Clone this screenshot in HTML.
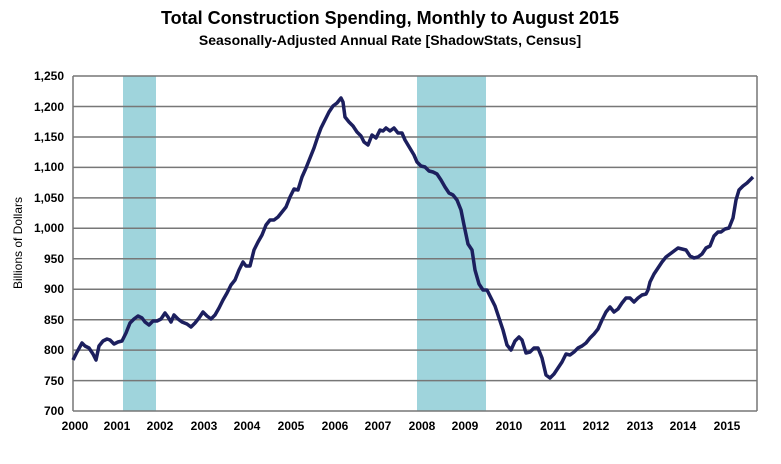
<!DOCTYPE html>
<html><head><style>body{margin:0;background:#fff}</style></head><body>
<svg width="781" height="459" xmlns="http://www.w3.org/2000/svg" font-family="Liberation Sans, Arial, sans-serif">
<rect width="781" height="459" fill="#fff"/>
<text x="390" y="24" text-anchor="middle" font-size="18" font-weight="bold">Total Construction Spending, Monthly to August 2015</text>
<text x="390" y="45" text-anchor="middle" font-size="14" font-weight="bold">Seasonally-Adjusted Annual Rate [ShadowStats, Census]</text>
<rect x="123" y="76" width="33" height="335" fill="#9fd4dc"/>
<rect x="417" y="76" width="69" height="335" fill="#9fd4dc"/>
<g stroke="#777" stroke-width="1.5">
<line x1="73" x2="757" y1="76" y2="76"/><line x1="73" x2="757" y1="106.5" y2="106.5"/><line x1="73" x2="757" y1="137" y2="137"/><line x1="73" x2="757" y1="167.4" y2="167.4"/><line x1="73" x2="757" y1="197.9" y2="197.9"/><line x1="73" x2="757" y1="228.3" y2="228.3"/><line x1="73" x2="757" y1="258.8" y2="258.8"/><line x1="73" x2="757" y1="289.2" y2="289.2"/><line x1="73" x2="757" y1="319.7" y2="319.7"/><line x1="73" x2="757" y1="350.1" y2="350.1"/><line x1="73" x2="757" y1="380.6" y2="380.6"/><line x1="73" x2="757" y1="411" y2="411"/>
<line x1="73" x2="73" y1="76" y2="411"/><line x1="757" x2="757" y1="76" y2="411"/>
</g>
<g font-size="12" font-weight="bold" text-anchor="end">
<text x="64" y="80">1,250</text><text x="64" y="111">1,200</text><text x="64" y="141">1,150</text><text x="64" y="171">1,100</text><text x="64" y="202">1,050</text><text x="64" y="232">1,000</text><text x="64" y="263">950</text><text x="64" y="293">900</text><text x="64" y="324">850</text><text x="64" y="354">800</text><text x="64" y="385">750</text><text x="64" y="415">700</text>
</g>
<g font-size="12" font-weight="bold" text-anchor="middle">
<text x="75" y="430">2000</text><text x="117" y="430">2001</text><text x="160" y="430">2002</text><text x="204" y="430">2003</text><text x="247" y="430">2004</text><text x="291" y="430">2005</text><text x="335" y="430">2006</text><text x="378" y="430">2007</text><text x="422" y="430">2008</text><text x="465" y="430">2009</text><text x="509" y="430">2010</text><text x="553" y="430">2011</text><text x="596" y="430">2012</text><text x="640" y="430">2013</text><text x="683" y="430">2014</text><text x="727" y="430">2015</text>
</g>
<text transform="translate(22,243) rotate(-90)" text-anchor="middle" font-size="12">Billions  of Dollars</text>
<polyline fill="none" stroke="#1c1f5e" stroke-width="3.5" stroke-linejoin="round" points="73,360 77,352 82,343 85,346 89,348 93,354 96,360 99,346 103,341 107,339 110,340 114,344 118,342 122,341 126,333 130,323 134,319 138,316 142,318 145,322 149,325 153,321 157,321 161,319 165,313 168,317 171,322 174,315 178,319 182,322 187,324 191,327 195,323 199,318 203,312 207,316 211,319 215,315 219,308 223,300 227,293 231,285 235,280 239,270 243,262 246,266 250,266 254,250 258,242 262,235 266,225 270,220 274,220 278,217 282,212 286,207 290,197 294,189 298,190 302,177 306,168 310,158 314,148 318,136 321,128 325,120 329,112 333,106 337,103 341,98 343,102 345,117 349,122 353,126 357,132 361,136 364,142 368,145 372,135 376,138 380,130 383,131 386,128 390,131 394,128 398,133 402,133 405,140 408,145 411,150 414,155 417,162 421,166 425,167 429,171 433,172 437,174 441,180 445,187 449,193 453,195 457,200 461,210 464,225 468,244 472,250 475,270 479,284 483,290 487,290 491,298 495,306 499,318 503,330 507,345 511,350 515,341 519,337 522,340 526,353 530,352 534,348 538,348 542,358 546,375 550,378 554,374 558,368 562,362 566,354 570,355 574,352 578,348 582,346 586,343 590,338 594,334 598,329 602,320 606,312 610,307 614,312 618,309 622,303 626,298 630,298 634,302 638,298 642,295 646,294 648,290 650,282 654,274 658,268 662,262 666,257 670,254 674,251 678,248 682,249 686,250 690,256 694,258 698,257 702,254 706,248 710,246 714,236 718,232 721,232 725,229 729,228 733,218 736,200 739,190 743,186 747,183 751,179 753,177"/>
</svg>
</body></html>
